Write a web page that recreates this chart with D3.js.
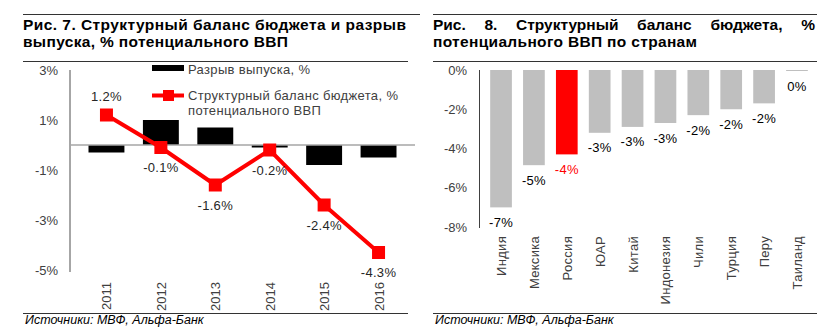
<!DOCTYPE html>
<html><head><meta charset="utf-8">
<script src="https://cdn.jsdelivr.net/npm/d3@7"></script>
<style>
body{margin:0;background:#fff;}
svg{display:block;font-family:"Liberation Sans",Arial,sans-serif;}
</style></head>
<body><svg id="c" width="838" height="336"></svg>
<script>
// ---- Data: Fig. 7 ----
const years = ["2011","2012","2013","2014","2015","2016"];
const outputGap = [-0.3, 1.0, 0.7, -0.1, -0.8, -0.5];
const structBalance = [1.2, -0.1, -1.6, -0.2, -2.4, -4.3];
const leftTicks = [3, 1, -1, -3, -5];
const legendLabels = ["Разрыв выпуска, %", "Структурный баланс бюджета, %", "потенциального ВВП"];
const leftTitle = ["Рис. 7. Структурный баланс бюджета и разрыв", "выпуска, % потенциального ВВП"];

// ---- Data: Fig. 8 ----
const countries = ["Индия","Мексика","Россия","ЮАР","Китай","Индонезия","Чили","Турция","Перу","Таиланд"];
const countryBalance = [-7.0, -4.85, -4.3, -3.2, -2.9, -2.7, -2.3, -2.0, -1.7, -0.05];
const highlight = "Россия";
const rightTicks = [0, -2, -4, -6, -8];
const rightTitle = ["Рис. 8. Структурный баланс бюджета, %", "потенциального ВВП по странам"];
const sourceText = "Источники: МВФ, Альфа-Банк";

const svg = d3.select("#c");
const RED = "#ff0000";

// ---------- frames ----------
function frame(x0, x1, title, justify, len1, len2) {
  svg.append("line").attr("x1", x0).attr("x2", x1).attr("y1", 14.5).attr("y2", 14.5).attr("stroke", "#333").attr("stroke-width", 1);
  svg.append("line").attr("x1", x0).attr("x2", x1 - (justify ? 0 : 12)).attr("y1", 61.5).attr("y2", 61.5).attr("stroke", "#333").attr("stroke-width", 1);
  svg.append("line").attr("x1", x0).attr("x2", x1 - (justify ? 0 : 12)).attr("y1", 313.5).attr("y2", 313.5).attr("stroke", "#333").attr("stroke-width", 1);
  const g = svg.append("g").attr("font-weight", "bold").attr("font-size", 15.5).attr("fill", "#000");
  if (justify) {
    const words = title[0].split(" ");
    const ts = words.map(w => g.append("text").attr("y", 30).text(w));
    const widths = ts.map(t => t.node().getComputedTextLength());
    const total = d3.sum(widths);
    const gap = (x1 - 2 - x0 - total) / (words.length - 1);
    let x = x0;
    ts.forEach((t, i) => { t.attr("x", x); x += widths[i] + gap; });
  } else {
    g.append("text").attr("x", x0).attr("y", 30).attr("textLength", len1).attr("lengthAdjust", "spacing").text(title[0]);
  }
  g.append("text").attr("x", x0).attr("y", 47).attr("textLength", len2).attr("lengthAdjust", "spacing").text(title[1]);
  svg.append("text").attr("x", x0 + 2).attr("y", 324).attr("font-size", 12.5).attr("font-style", "italic")
    .attr("fill", "#000").text(sourceText);
}
frame(23, 420, leftTitle, false, 383, 265);
frame(433, 817, rightTitle, true, 0, 264);

// ---------- Left chart ----------
{
  const y = d3.scaleLinear().domain([-5, 3]).range([270, 70]);
  const x = d3.scaleBand().domain(years).range([70, 415]).padding(0.34);
  const g = svg.append("g");
  g.selectAll(".yt").data(leftTicks).join("text")
    .attr("x", 58).attr("y", d => y(d)).attr("dy", "0.35em").attr("text-anchor", "end")
    .attr("font-size", 13).attr("fill", "#404040").text(d => d + "%");
  g.selectAll(".bar").data(years).join("rect")
    .attr("x", d => x(d)).attr("width", x.bandwidth())
    .attr("y", (d, i) => y(Math.max(0, outputGap[i])))
    .attr("height", (d, i) => Math.max(1, Math.abs(y(outputGap[i]) - y(0))))
    .attr("fill", "#000");
  g.append("line").attr("x1", 70).attr("x2", 70).attr("y1", 70).attr("y2", 272).attr("stroke", "#a6a6a6").attr("stroke-width", 2);
  g.append("line").attr("x1", 70).attr("x2", 415).attr("y1", y(0)).attr("y2", y(0)).attr("stroke", "#a6a6a6").attr("stroke-width", 1.5);
  const cx = d => x(d) + x.bandwidth() / 2;
  const line = d3.line().x((d, i) => cx(years[i])).y(d => y(d));
  g.append("path").datum(structBalance).attr("d", line).attr("fill", "none").attr("stroke", RED).attr("stroke-width", 4);
  g.selectAll(".mk").data(structBalance).join("rect")
    .attr("x", (d, i) => cx(years[i]) - 6.5).attr("y", d => y(d) - 6.5).attr("width", 13).attr("height", 13).attr("fill", RED);
  g.selectAll(".lbl").data(structBalance).join("text")
    .attr("x", (d, i) => cx(years[i])).attr("y", (d, i) => y(d) + (i === 0 ? -19 : 20)).attr("dy", "0.35em")
    .attr("text-anchor", "middle").attr("font-size", 13).attr("letter-spacing", 0.3).attr("fill", "#262626").text(d => d.toFixed(1) + "%");
  g.selectAll(".xl").data(years).join("text")
    .attr("transform", d => `translate(${cx(d) + 5},282) rotate(-90)`).attr("text-anchor", "end")
    .attr("font-size", 13).attr("fill", "#404040").text(d => d);
  g.append("rect").attr("x", 152).attr("y", 65).attr("width", 32).attr("height", 6).attr("fill", "#000");
  g.append("line").attr("x1", 152).attr("x2", 184).attr("y1", 95.5).attr("y2", 95.5).attr("stroke", RED).attr("stroke-width", 4);
  g.append("rect").attr("x", 163).attr("y", 90).attr("width", 11).attr("height", 11).attr("fill", RED);
  const lg = g.append("g").attr("font-size", 13).attr("letter-spacing", 0.35).attr("fill", "#404040");
  lg.append("text").attr("x", 188).attr("y", 69).attr("dy", "0.35em").text(legendLabels[0]);
  lg.append("text").attr("x", 188).attr("y", 95).attr("dy", "0.35em").text(legendLabels[1]);
  lg.append("text").attr("x", 188).attr("y", 110).attr("dy", "0.35em").text(legendLabels[2]);
}

// ---------- Right chart ----------
{
  const y = d3.scaleLinear().domain([-8, 0]).range([227, 70]);
  const x = d3.scaleBand().domain(countries).range([479, 819]).padding(0.34);
  const g = svg.append("g");
  g.selectAll(".yt").data(rightTicks).join("text")
    .attr("x", 467).attr("y", d => y(d)).attr("dy", "0.35em").attr("text-anchor", "end")
    .attr("font-size", 13).attr("fill", "#404040").text(d => d + "%");
  g.selectAll(".bar").data(countries).join("rect")
    .attr("x", d => x(d)).attr("width", x.bandwidth())
    .attr("y", y(0)).attr("height", (d, i) => Math.max(1, y(countryBalance[i]) - y(0)))
    .attr("fill", d => d === highlight ? RED : "#bfbfbf");
  g.append("line").attr("x1", 479.5).attr("x2", 479.5).attr("y1", 70).attr("y2", 228).attr("stroke", "#404040").attr("stroke-width", 1);
  const fmt = v => { const r = Math.round(v); return (r === 0 ? 0 : r) + "%"; };
  g.selectAll(".lbl").data(countries).join("text")
    .attr("x", d => x(d) + x.bandwidth() / 2).attr("y", (d, i) => y(countryBalance[i]) + 15).attr("dy", "0.35em")
    .attr("text-anchor", "middle").attr("font-size", 13).attr("letter-spacing", 0.3)
    .attr("fill", d => d === highlight ? RED : "#000").text((d, i) => fmt(countryBalance[i]));
  g.selectAll(".xl").data(countries).join("text")
    .attr("transform", d => `translate(${x(d) + x.bandwidth() / 2 + 5},236) rotate(-90)`).attr("text-anchor", "end")
    .attr("font-size", 13).attr("letter-spacing", 0.3).attr("fill", "#404040").text(d => d);
}
</script></body></html>
